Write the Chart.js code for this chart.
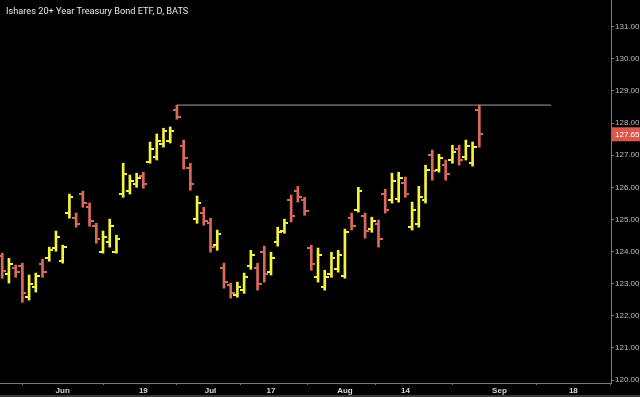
<!DOCTYPE html>
<html>
<head>
<meta charset="utf-8">
<script src="https://cdn.jsdelivr.net/npm/chart.js@4/dist/chart.umd.min.js"></script>
<style>
  html, body { margin: 0; padding: 0; background: #000; }
  #wrap { position: relative; width: 640px; height: 397px; }
</style>
</head>
<body>
<div id="wrap"><canvas id="c"></canvas></div>
<script>
// ---- data (daily OHLC, bar index 0 = 1 Jun) ----
const titleText = 'Ishares 20+ Year Treasury Bond ETF, D, BATS';
const firstBarIndex = -9;
const opens  = [123.85,123.30,123.50,123.55,122.60,122.90,123.60,123.80,124.10,123.70,
                125.20,125.05,125.80,125.40,124.80,124.00,124.30,124.00,125.80,125.90,
                126.10,126.35,126.80,126.95,127.35,127.45,128.40,127.30,126.60,125.00,
                125.20,124.90,124.20,123.50,122.95,122.65,122.80,123.55,123.50,124.00,
                123.35,124.30,124.65,125.60,125.90,125.60,124.10,123.20,122.90,123.30,
                123.45,123.25,125.05,125.30,125.10,124.70,124.85,125.80,125.60,125.65,
                126.15,124.75,124.85,125.60,127.00,126.55,126.70,126.85,127.20,126.95,
                126.75,128.40];
const highs  = [123.95,123.79,123.58,123.64,123.27,123.33,123.76,124.14,124.64,124.20,
                125.79,125.20,125.88,125.51,124.88,124.64,125.01,124.51,126.75,126.38,
                126.44,126.47,127.41,127.66,127.84,127.88,128.56,127.47,126.75,125.73,
                125.38,125.04,124.67,123.64,123.02,123.05,123.33,124.04,123.64,124.17,
                123.98,124.76,125.01,125.76,126.03,125.69,124.20,124.11,123.42,123.98,
                124.04,124.70,125.20,126.00,125.20,125.07,124.98,125.94,126.44,126.47,
                126.32,125.54,126.03,126.69,127.16,127.03,126.85,127.31,127.31,127.47,
                127.41,128.56];
const lows   = [123.17,123.02,123.20,122.42,122.49,122.74,123.20,123.70,124.01,123.64,
                125.04,124.76,125.38,124.79,124.26,123.95,124.14,123.95,125.69,125.79,
                126.00,125.97,126.75,126.85,127.25,127.38,128.12,126.57,125.91,124.88,
                124.82,123.98,124.04,122.86,122.55,122.58,122.70,123.45,122.80,123.05,
                123.27,124.17,124.57,124.92,125.54,125.13,123.42,123.05,122.80,123.20,
                123.36,123.17,124.67,125.23,124.42,124.60,124.14,125.20,125.51,125.54,
                125.69,124.67,124.76,125.51,126.22,126.47,126.22,126.75,126.69,126.85,
                126.66,127.25];
const closes = [123.40,123.60,123.35,122.70,123.00,123.25,123.35,124.05,124.45,124.15,
                125.70,124.85,125.50,124.95,124.40,124.45,124.80,124.40,126.40,126.20,
                126.30,126.10,127.20,127.45,127.75,127.75,128.20,126.90,126.10,125.50,
                124.95,124.15,124.55,123.05,122.70,122.90,123.20,123.90,123.00,123.30,
                123.80,124.60,124.90,125.10,125.70,125.25,123.60,123.90,123.20,123.80,
                123.90,124.60,124.80,125.90,124.65,124.95,124.40,125.30,126.20,126.30,
                125.80,125.30,125.70,126.55,126.50,126.90,126.40,127.10,126.85,127.30,
                127.25,127.65];
const xTickIndex  = [0, 12, 22, 31, 42, 51, 65, 76];
const xTickLabels = ['Jun', '19', 'Jul', '17', 'Aug', '14', 'Sep', '18'];
const yTickValues = [120,121,122,123,124,125,126,127,128,129,130,131];
const resistanceLevel = 128.56;
const resistanceStartBar = 17;
const resistanceEndBar = 72.7;

// ---- styling ----
const UP = '#f4f43c';
const DOWN = '#dc6a5c';
const AXIS = '#7a7a7a';
const barIdx = closes.map((_, i) => firstBarIndex + i);
const isUp = closes.map((c, i) => c >= opens[i]);

function tickImage(color, side) {
  const cv = document.createElement('canvas');
  cv.width = 8; cv.height = 2;
  const g = cv.getContext('2d');
  g.fillStyle = color;
  g.fillRect(side === 'left' ? 0 : 5, 0, 3, 2);
  return cv;
}
const tickImgs = {
  upL: tickImage(UP, 'left'), upR: tickImage(UP, 'right'),
  dnL: tickImage(DOWN, 'left'), dnR: tickImage(DOWN, 'right')
};

const decor = {
  id: 'decor',
  beforeDraw(chart) {
    const ctx = chart.ctx;
    ctx.save();
    ctx.fillStyle = '#000';
    ctx.fillRect(0, 0, chart.width, chart.height);
    ctx.restore();
  },
  afterDraw(chart) {
    const ctx = chart.ctx;
    const ys = chart.scales.y;
    const area = chart.chartArea;
    ctx.save();
    // title
    ctx.fillStyle = '#e6e6e6';
    ctx.font = '9.2px Roboto';
    ctx.textBaseline = 'middle';
    ctx.textAlign = 'left';
    ctx.fillText(titleText, 6, 12);
    // last price label
    const last = closes[closes.length - 1];
    const py = ys.getPixelForValue(last);
    ctx.fillStyle = '#d9574b';
    ctx.fillRect(area.right + 1, py - 7, chart.width - area.right - 1, 14);
    ctx.fillStyle = '#ffffff';
    ctx.font = '8px "Liberation Sans"';
    ctx.fillText(last.toFixed(2), area.right + 4, py);
    // bottom strip
    ctx.fillStyle = '#3a3a3a';
    ctx.fillRect(0, chart.height - 2, chart.width, 2);
    ctx.restore();
  }
};

new Chart(document.getElementById('c'), {
  type: 'bar',
  data: {
    datasets: [
      {
        type: 'line',
        data: [{x: resistanceStartBar, y: resistanceLevel}, {x: resistanceEndBar, y: resistanceLevel}],
        borderColor: '#a0a0a0',
        borderWidth: 1,
        pointRadius: 0,
        order: 3
      },
      {
        type: 'bar',
        data: barIdx.map((x, i) => ({x: x, y: [lows[i], highs[i]]})),
        backgroundColor: isUp.map(u => u ? UP : DOWN),
        borderWidth: 0,
        barThickness: 2,
        order: 2
      },
      {
        type: 'scatter',
        data: barIdx.map((x, i) => ({x: x, y: opens[i]})),
        pointStyle: c => isUp[c.dataIndex] ? tickImgs.upL : tickImgs.dnL,
        pointRadius: 1,
        order: 1
      },
      {
        type: 'scatter',
        data: barIdx.map((x, i) => ({x: x, y: closes[i]})),
        pointStyle: c => isUp[c.dataIndex] ? tickImgs.upR : tickImgs.dnR,
        pointRadius: 1,
        order: 1
      }
    ]
  },
  options: {
    responsive: true,
    maintainAspectRatio: false,
    animation: false,
    events: [],
    layout: { padding: 0, autoPadding: false },
    plugins: { legend: { display: false }, tooltip: { enabled: false } },
    scales: {
      x: {
        type: 'linear',
        position: 'bottom',
        min: -9.33,
        max: 81.6,
        offset: false,
        grid: { display: true, drawOnChartArea: false, drawTicks: true, tickLength: 2, color: AXIS },
        border: { display: true, color: AXIS },
        ticks: {
          autoSkip: false, maxRotation: 0, padding: 1,
          color: '#d8d8d8',
          font: { family: 'Liberation Sans', size: 8, weight: 'bold' },
          callback: v => { const k = xTickIndex.indexOf(v); return k >= 0 ? xTickLabels[k] : ''; }
        },
        afterBuildTicks: s => { s.ticks = xTickIndex.map(v => ({value: v})); },
        afterFit: s => { s.height = 14; s.paddingLeft = 0; s.paddingRight = 0; }
      },
      y: {
        type: 'linear',
        position: 'right',
        min: 119.91,
        max: 131.83,
        grid: { display: true, drawOnChartArea: false, drawTicks: true, tickLength: 3, color: AXIS },
        border: { display: true, color: AXIS },
        ticks: {
          padding: 1,
          color: '#bdbdbd',
          font: { family: 'Liberation Sans', size: 8 },
          callback: v => Number(v).toFixed(2)
        },
        afterBuildTicks: s => { s.ticks = yTickValues.map(v => ({value: v})); },
        afterFit: s => { s.width = 29; s.paddingTop = 0; s.paddingBottom = 0; }
      }
    }
  },
  plugins: [decor]
});
</script>
</body>
</html>
